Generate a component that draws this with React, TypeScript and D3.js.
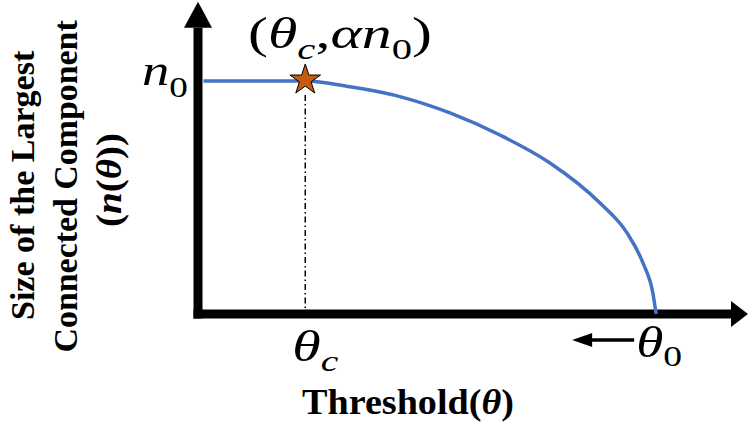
import * as d3 from "d3";
import React, { useRef, useEffect } from "react";

// curve n(theta) (theta and size in % of axis units)
const thetaVals = [1, 19.5, 27.6, 36.7, 45.8, 54.9, 64, 73.1, 78, 80.9, 82.7, 83.3];
const sizeVals = [100, 100, 97.5, 93.3, 86.3, 76.8, 64.8, 47.6, 34.8, 21.9, 9.0, 0];
const thetaC = 19.5;
const nZero = 100;
const thetaZero = 83.3;
const yLabelLines = ["Size of the Largest", "Connected Component"];
const xLabelText = "Threshold";

const W = 748;
const H = 434;
const SERIF = "'Liberation Serif', 'Times New Roman', Times, serif";

type Part = { t: string; i?: boolean; sub?: boolean };

const App = () => {
  const ref = useRef<SVGSVGElement | null>(null);

  useEffect(() => {
    if (!ref.current) return;
    const svg = d3.select(ref.current);
    svg.selectAll("*").remove();

    const x = d3.scaleLinear().domain([0, 100]).range([198, 748]);
    const y = d3.scaleLinear().domain([0, 100]).range([314, 81]);
    const yTop = 134;
    const axisW = 9;

    // builds a text of parts, then stretches it to the wanted width around a center
    const fitText = (
      parts: Part[],
      cx: number,
      baseline: number,
      width: number,
      size: number,
      opts: { bold?: boolean; rotate?: boolean; subDy?: number }
    ) => {
      const g = svg.append("g");
      const t = g
        .append("text")
        .style("font-family", SERIF)
        .style("font-size", size + "px")
        .style("font-weight", opts.bold ? "bold" : "normal")
        .attr("fill", "#000");
      let inSub = false;
      const subDy = opts.subDy ?? 10;
      parts.forEach((p) => {
        const ts = t.append("tspan").text(p.t);
        if (p.i) ts.style("font-style", "italic");
        if (p.sub) {
          ts.style("font-size", size * 0.68 + "px");
          if (!inSub) ts.attr("dy", subDy);
          inSub = true;
        } else if (inSub) {
          ts.attr("dy", -subDy);
          inSub = false;
        }
      });
      const bb = (t.node() as SVGTextElement).getBBox();
      const k = width / bb.width;
      const shift = -(bb.x + bb.width / 2) * k;
      if (opts.rotate) {
        g.attr("transform", `translate(${baseline},${cx}) rotate(-90) translate(${shift},0) scale(${k},1)`);
      } else {
        g.attr("transform", `translate(${cx},${baseline}) translate(${shift},0) scale(${k},1)`);
      }
    };

    // y axis with arrow
    svg
      .append("line")
      .attr("x1", x(0))
      .attr("x2", x(0))
      .attr("y1", y(0) + axisW / 2)
      .attr("y2", y(yTop) + 26)
      .attr("stroke", "#000")
      .attr("stroke-width", axisW);
    svg
      .append("path")
      .attr("d", `M${x(0)},${y(yTop)} L${x(0) - 14},${y(yTop) + 26} L${x(0) + 14},${y(yTop) + 26} Z`)
      .attr("fill", "#000");

    // x axis with arrow
    svg
      .append("line")
      .attr("x1", x(0) - axisW / 2)
      .attr("x2", x(100) - 16)
      .attr("y1", y(0))
      .attr("y2", y(0))
      .attr("stroke", "#000")
      .attr("stroke-width", axisW);
    svg
      .append("path")
      .attr("d", `M${x(100)},${y(0)} L${x(100) - 17},${y(0) - 13} L${x(100) - 17},${y(0) + 13} Z`)
      .attr("fill", "#000");

    // dash-dot drop line at theta_c
    svg
      .append("line")
      .attr("x1", x(thetaC))
      .attr("x2", x(thetaC))
      .attr("y1", y(nZero) + 14)
      .attr("y2", y(0) - axisW / 2)
      .attr("stroke", "#000")
      .attr("stroke-width", 1.5)
      .attr("stroke-dasharray", "6,3,1.5,3");

    // the curve
    const line = d3
      .line<number>()
      .x((d, i) => x(thetaVals[i]))
      .y((d) => y(d))
      .curve(d3.curveMonotoneX);
    svg
      .append("path")
      .datum(sizeVals)
      .attr("fill", "none")
      .attr("stroke", "#4472C4")
      .attr("stroke-width", 3.5)
      .attr("d", line);

    // star at (theta_c, alpha n0)
    svg
      .append("path")
      .attr("d", d3.symbol().type(d3.symbolStar).size(290)())
      .attr("transform", `translate(${x(thetaC)},${y(nZero) - 1})`)
      .attr("fill", "#C55A11")
      .attr("stroke", "#000")
      .attr("stroke-width", 1);

    // small arrow pointing left next to theta_0
    const ay = y(0) + 26;
    const ax = x(thetaZero) - 22;
    svg
      .append("line")
      .attr("x1", ax)
      .attr("x2", ax - 44)
      .attr("y1", ay)
      .attr("y2", ay)
      .attr("stroke", "#000")
      .attr("stroke-width", 3.5);
    svg
      .append("path")
      .attr("d", `M${ax - 62},${ay} L${ax - 42},${ay - 7} L${ax - 42},${ay + 7} Z`)
      .attr("fill", "#000");

    // math labels
    fitText(
      [{ t: "(" }, { t: "θ", i: true }, { t: "c", i: true, sub: true }, { t: "," }, { t: "α", i: true }, { t: "n", i: true }, { t: "0", sub: true }, { t: ")" }],
      340,
      y(nZero) - 33,
      184,
      44,
      { subDy: 11 }
    );
    fitText([{ t: "n", i: true }, { t: "0", sub: true }], 165, y(nZero) + 4, 46, 44, { subDy: 12 });
    fitText([{ t: "θ", i: true }, { t: "c", i: true, sub: true }], x(thetaC) + 10, y(0) + 47, 46, 44, { subDy: 10 });
    fitText([{ t: "θ", i: true }, { t: "0", sub: true }], x(thetaZero) + 3, y(0) + 43, 46, 44, { subDy: 9 });

    // axis titles
    fitText([{ t: xLabelText + "(" }, { t: "θ", i: true }, { t: ")" }], 408, 414, 212, 35, { bold: true });
    fitText([{ t: yLabelLines[0] }], 185, 34, 270, 34, { bold: true, rotate: true });
    fitText([{ t: yLabelLines[1] }], 186, 77, 333, 34, { bold: true, rotate: true });
    fitText([{ t: "(" }, { t: "n", i: true }, { t: "(" }, { t: "θ", i: true }, { t: "))" }], 180, 121, 94, 36, {
      bold: true,
      rotate: true,
    });
  }, []);

  return (
    <svg
      ref={ref}
      width={W}
      height={H}
      style={{ position: "absolute", left: 0, top: 0, background: "#fff" }}
    />
  );
};

export default App;
